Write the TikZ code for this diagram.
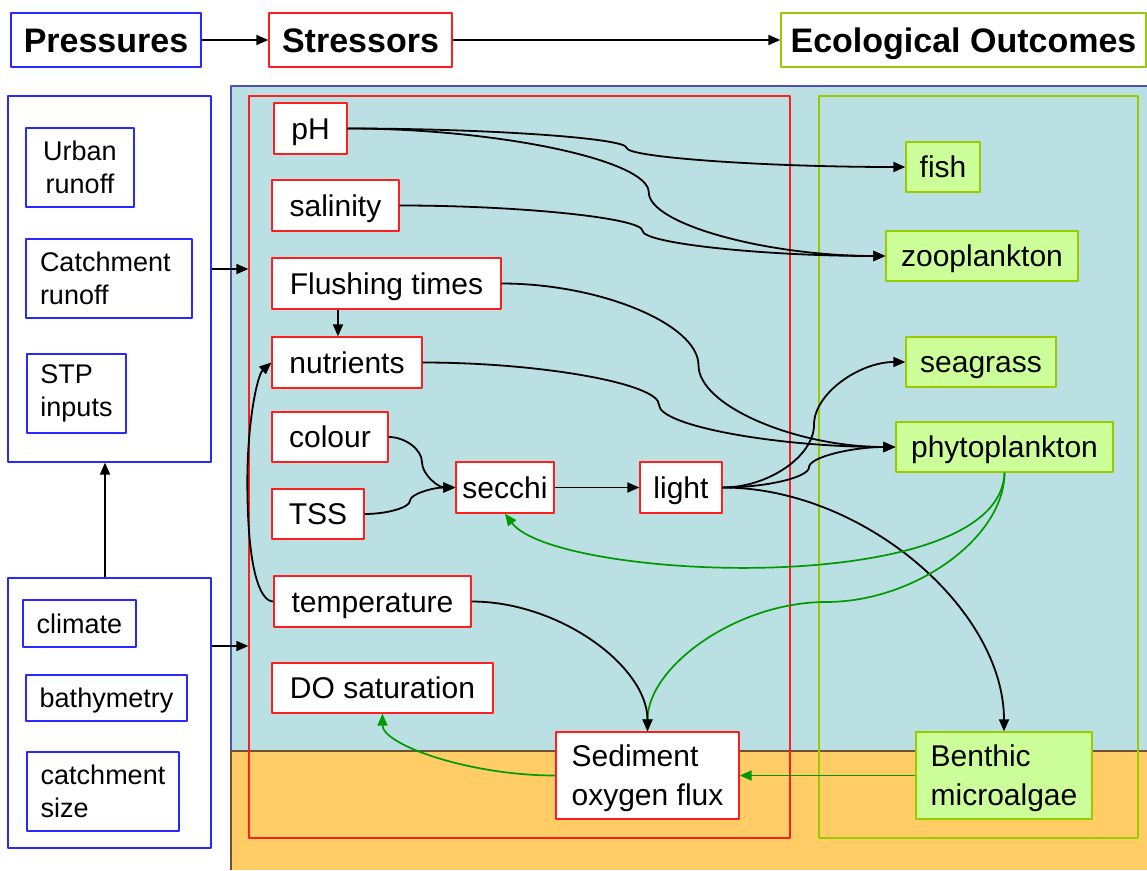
\documentclass[tikz,border=0pt]{standalone}
\usepackage{fontspec}
\setmainfont{Liberation Sans}
\usetikzlibrary{arrows.meta,calc}
\definecolor{pblue}{RGB}{40,40,255}
\definecolor{sred}{RGB}{255,30,30}
\definecolor{oline}{RGB}{153,204,0}
\definecolor{ofill}{RGB}{204,255,153}
\definecolor{wteal}{RGB}{187,224,227}
\definecolor{sedfill}{RGB}{255,204,102}
\definecolor{sedline}{RGB}{110,80,50}
\definecolor{frameblue}{RGB}{80,80,180}
\definecolor{garrow}{RGB}{0,153,0}
\newcommand\tfA{\fontsize{27}{33}\selectfont}
\newcommand\tfB{\fontsize{30}{39}\selectfont}
\newcommand\tfC{\fontsize{34}{40}\selectfont\bfseries}
\tikzset{
  sz/.style 2 args={minimum width=#1pt, minimum height=#2pt},
  pbox/.style={draw=pblue, fill=white, line width=1.3pt, inner sep=0pt, font=\tfA, align=center},
  sbox/.style={draw=sred, fill=white, line width=1.3pt, inner sep=0pt, font=\tfB, align=center},
  obox/.style={draw=oline, fill=ofill, line width=1.3pt, inner sep=0pt, font=\tfB, align=center},
  hbox/.style={fill=white, line width=1.3pt, inner sep=0pt, font=\tfC, text height=24.3pt, text depth=0pt},
  oneA/.style={text height=19.3pt, text depth=0pt},
  oneB/.style={text height=21.5pt, text depth=0pt},
  two/.style={text depth=0pt},
  grp/.style={draw=pblue, fill=white, line width=1.3pt, inner sep=0pt},
  frm/.style={line width=1.2pt, inner sep=0pt},
  arr/.style={-{Triangle[length=12pt,width=10pt]}, line width=1.8pt, draw=black},
  garr/.style={-{Triangle[length=12pt,width=10pt]}, line width=1.7pt, draw=garrow},
  ch/.style={to path={let \p1=(\tikztostart), \p2=(\tikztotarget), \n1={\x1+#1*(\x2-\x1)} in
     .. controls ({(\x1+\n1)/2},\y1) and (\n1,{\y1+(\y2-\y1)/4}) .. (\n1,{(\y1+\y2)/2})
     .. controls (\n1,{\y1+3*(\y2-\y1)/4}) and ({(\n1+\x2)/2},\y2) .. (\tikztotarget)}},
  ch/.default=0.5,
  cv/.style={to path={let \p1=(\tikztostart), \p2=(\tikztotarget), \n1={\y1+#1*(\y2-\y1)} in
     .. controls (\x1,{(\y1+\n1)/2}) and ({\x1+(\x2-\x1)/4},\n1) .. ({(\x1+\x2)/2},\n1)
     .. controls ({\x1+3*(\x2-\x1)/4},\n1) and (\x2,{(\n1+\y2)/2}) .. (\tikztotarget)}},
  cv/.default=0.5,
  c2h/.style={to path={let \p1=(\tikztostart), \p2=(\tikztotarget) in
     .. controls ({(\x1+\x2)/2},\y1) and (\x2,{(\y1+\y2)/2}) .. (\tikztotarget)}},
}
\begin{document}
\begin{tikzpicture}[x=1pt,y=1pt,line join=round]
\useasboundingbox (0,0) rectangle (1147,-870);
% backgrounds
\fill[wteal] (231,-86) rectangle (1147,-870);
\fill[sedfill] (231,-751) rectangle (1147,-870);
\draw[frameblue, line width=1.2pt] (1147,-86) -- (231,-86) -- (231,-751);
\draw[sedline, line width=1.2pt] (1147,-751) -- (231,-751) -- (231,-870);
% frames
\node[frm, draw=sred, sz={541}{742}] (sframe) at (519.5,-467) {};
\node[frm, draw=oline, sz={319}{742}] (oframe) at (978.5,-467) {};
% header
\node[hbox, draw=pblue, sz={190}{54}] (pres) at (106,-40) {Pressures};
\node[hbox, draw=sred, sz={183}{54}] (stre) at (360.5,-40) {Stressors};
\node[hbox, draw=oline, sz={365}{54}] (eco) at (963.5,-40) {Ecological Outcomes};
\draw[arr] (pres.east) -- (stre.west);
\draw[arr] (stre.east) -- (eco.west);
% pressures
\node[grp, sz={203}{366}] (grpU) at (109.5,-279) {};
\node[grp, sz={203}{270}] (grpL) at (109.5,-713) {};
\node[pbox, sz={108}{79}] (urban) at (80,-167.5) {Urban\\runoff};
\node[pbox, sz={166}{79}, align=left, text width=138pt] (catch) at (109,-278.5) {Catchment\\runoff};
\node[pbox, sz={99}{79}, align=left] (stp) at (76.5,-393.5) {STP\\inputs};
\node[pbox, oneA, sz={113}{47}] (climate) at (79.5,-623.5) {climate};
\node[pbox, oneA, sz={161}{46}] (bathy) at (106.5,-698) {bathymetry};
\node[pbox, sz={152}{79}, align=left] (csize) at (103,-791.5) {catchment\\size};
\coordinate (up) at ($(grpL.north)+(-4.5,0)$);
\draw[arr] (up) -- (up |- grpU.south);
\coordinate (aU) at ($(grpU.east)+(0,10)$);
\coordinate (aL) at ($(grpL.east)+(0,67)$);
\draw[arr] (aU) -- (aU -| sframe.west);
\draw[arr] (aL) -- (aL -| sframe.west);
% stressors
\node[sbox, oneB, sz={73}{51}] (ph) at (310.5,-128.5) {pH};
\node[sbox, oneB, sz={127}{51}] (sal) at (335.5,-205.5) {salinity};
\node[sbox, oneB, sz={229}{51}] (flush) at (386.5,-283.5) {Flushing times};
\node[sbox, oneB, sz={150}{51}] (nutr) at (347,-362.5) {nutrients};
\node[sbox, oneB, sz={116}{50}] (colour) at (330,-437) {colour};
\node[sbox, oneB, sz={92}{50}] (tss) at (318,-514) {TSS};
\node[sbox, oneB, sz={98}{51}] (secchi) at (505,-487.5) {secchi};
\node[sbox, oneB, sz={82}{51}] (light) at (681,-487.5) {light};
\node[sbox, oneB, sz={197}{51}] (temp) at (372.5,-601.5) {temperature};
\node[sbox, oneB, sz={221}{50}] (dosat) at (382.5,-688) {DO saturation};
\node[sbox, two, sz={183}{87}, align=left] (sed) at (647.5,-775.5) {Sediment\\oxygen flux};
% outcomes
\node[obox, oneB, sz={74}{50}] (fish) at (943,-167) {fish};
\node[obox, oneB, sz={192}{50}] (zoo) at (982,-256) {zooplankton};
\node[obox, oneB, sz={150}{50}] (sea) at (981,-362) {seagrass};
\node[obox, oneB, sz={217}{50}] (phyto) at (1004.5,-447) {phytoplankton};
\node[obox, two, sz={176}{87}, align=left] (benthic) at (1004,-775.5) {Benthic\\microalgae};
% connectors
\draw[arr] (ph.east) to[ch] (fish.west);
\draw[arr] (ph.east) to[ch=0.56] (zoo.west);
\draw[arr] (sal.east) to[ch] (zoo.west);
\draw[arr] (flush.east) to[ch] (phyto.west);
\draw[arr] (nutr.east) to[ch] (phyto.west);
\coordinate (fn) at ($(flush.south)+(-48.5,0)$);
\draw[arr] (fn) -- (fn |- nutr.north);
\coordinate (tn) at ($(temp.west)+(-26,120)$);
\draw[arr] (temp.west) .. controls +(-13,0) and +(0,-90) .. (tn) .. controls +(0,60) and +(-14,-12.5) .. (nutr.west);
\draw[arr] (colour.east) to[ch] (secchi.west);
\draw[arr] (tss.east) to[ch] (secchi.west);
\draw[arr] (secchi.east) -- (light.west);
\draw[arr] (light.east) to[ch] (sea.west);
\draw[arr] (light.east) to[ch] (phyto.west);
\draw[arr] (light.east) to[c2h] (benthic.north);
\draw[garr] (phyto.south) .. controls +(-4,-128) and +(50,-67) .. (secchi.south);
\draw[garr] (phyto.south) to[cv] (sed.north);
\draw[arr] (temp.east) to[c2h] (sed.north);
\draw[garr] (benthic.west) -- (sed.east);
\draw[garr] (sed.west) to[c2h] (dosat.south);
\end{tikzpicture}
\end{document}
